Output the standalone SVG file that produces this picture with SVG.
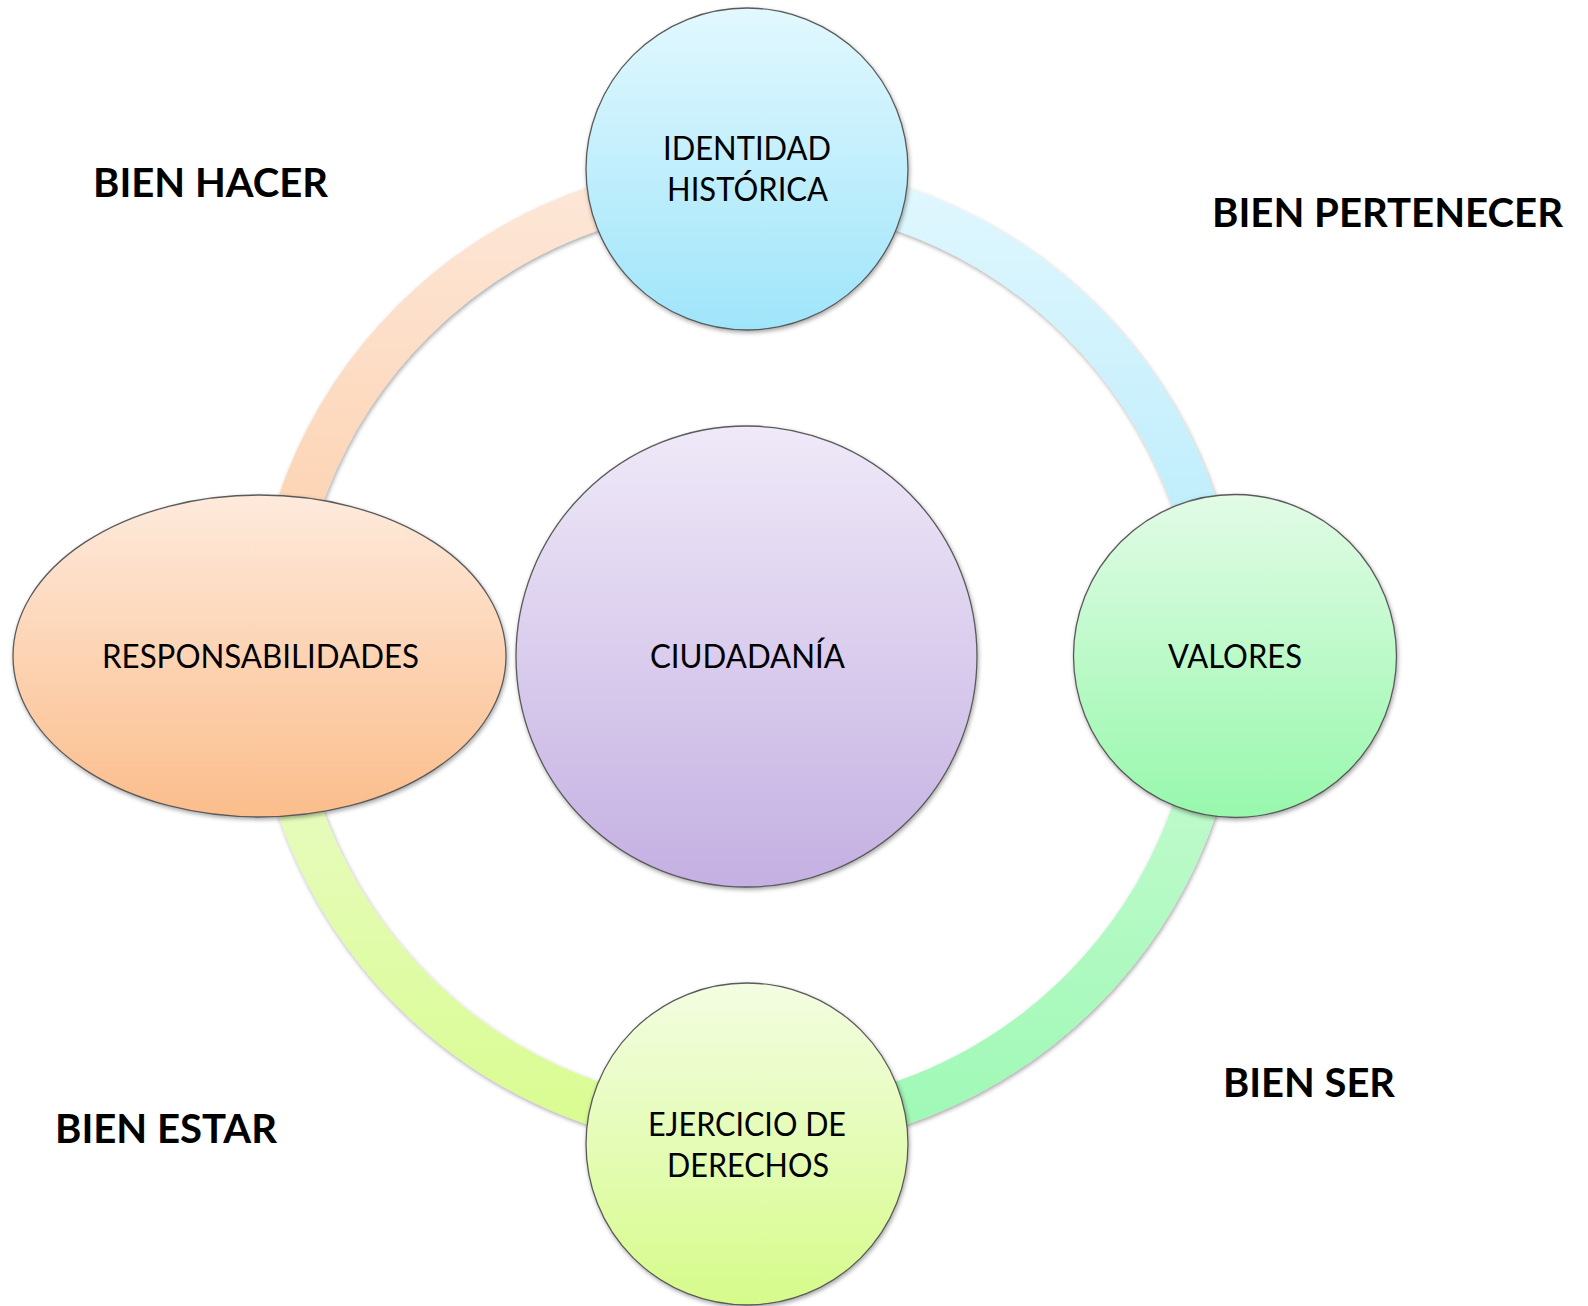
<svg xmlns="http://www.w3.org/2000/svg" width="1588" height="1306" viewBox="0 0 1588 1306">
<defs>
<filter id="sh" x="-10%" y="-10%" width="120%" height="120%">
<feDropShadow dx="1" dy="2" stdDeviation="2" flood-color="#000" flood-opacity="0.35"/>
</filter>
<linearGradient id="gTop" x1="0" y1="0" x2="0" y2="1"><stop offset="0" stop-color="#e2f8fe"/><stop offset="1" stop-color="#9fe5fa"/></linearGradient>
<linearGradient id="gLeft" x1="0" y1="0" x2="0" y2="1"><stop offset="0" stop-color="#feeadc"/><stop offset="1" stop-color="#fbbd8b"/></linearGradient>
<linearGradient id="gRight" x1="0" y1="0" x2="0" y2="1"><stop offset="0" stop-color="#e2fbe6"/><stop offset="1" stop-color="#97f8ac"/></linearGradient>
<linearGradient id="gBottom" x1="0" y1="0" x2="0" y2="1"><stop offset="0" stop-color="#f3fde2"/><stop offset="1" stop-color="#d6fb8a"/></linearGradient>
<linearGradient id="gCenter" x1="0" y1="0" x2="0" y2="1"><stop offset="0" stop-color="#efe9f8"/><stop offset="1" stop-color="#c4b0e2"/></linearGradient>
<linearGradient id="aTL" x1="0" y1="0" x2="0" y2="1"><stop offset="0" stop-color="#fde7d8"/><stop offset="1" stop-color="#fdcca5"/></linearGradient>
<linearGradient id="aTR" x1="0" y1="0" x2="0" y2="1"><stop offset="0" stop-color="#e0f7fe"/><stop offset="1" stop-color="#b2eafb"/></linearGradient>
<linearGradient id="aBR" x1="0" y1="0" x2="0" y2="1"><stop offset="0" stop-color="#cbfad3"/><stop offset="1" stop-color="#9ff9b6"/></linearGradient>
<linearGradient id="aBL" x1="0" y1="0" x2="0" y2="1"><stop offset="0" stop-color="#ecfbd0"/><stop offset="1" stop-color="#d9fc90"/></linearGradient>
</defs>
<style>
.arc{fill:none;stroke-width:44;filter:url(#sh)}
.node{stroke:#5a5a5a;stroke-width:1.3;filter:url(#sh)}
.t{font-family:Lato,"Liberation Sans",sans-serif;font-size:32px;fill:#000}
.b{font-family:Lato,"Liberation Sans",sans-serif;font-size:40.5px;font-weight:bold;fill:#000}
</style>
<g id="connectors">
<path class="arc" stroke="url(#aTL)" d="M274 656 A473 473 0 0 1 747 183"/>
<path class="arc" stroke="url(#aTR)" d="M747 183 A473 473 0 0 1 1220 656"/>
<path class="arc" stroke="url(#aBR)" d="M1220 656 A473 473 0 0 1 747 1129"/>
<path class="arc" stroke="url(#aBL)" d="M747 1129 A473 473 0 0 1 274 656"/>
</g>
<g id="node-ciudadania">
<circle class="node" cx="746.5" cy="656.5" r="230.5" fill="url(#gCenter)"/>
<text class="t" x="650" y="668" textLength="195" lengthAdjust="spacingAndGlyphs">CIUDADANÍA</text>
</g>
<g id="node-identidad">
<circle class="node" cx="747" cy="169" r="161" fill="url(#gTop)"/>
<text class="t" x="663" y="160" textLength="168" lengthAdjust="spacingAndGlyphs">IDENTIDAD</text>
<text class="t" x="667" y="201" textLength="161" lengthAdjust="spacingAndGlyphs">HISTÓRICA</text>
</g>
<g id="node-responsabilidades">
<ellipse class="node" cx="259.5" cy="656" rx="246.5" ry="161" fill="url(#gLeft)"/>
<text class="t" x="102" y="668" textLength="317" lengthAdjust="spacingAndGlyphs">RESPONSABILIDADES</text>
</g>
<g id="node-valores">
<circle class="node" cx="1235" cy="656" r="161.5" fill="url(#gRight)"/>
<text class="t" x="1168" y="668" textLength="134" lengthAdjust="spacingAndGlyphs">VALORES</text>
</g>
<g id="node-ejercicio">
<circle class="node" cx="747" cy="1144" r="161" fill="url(#gBottom)"/>
<text class="t" x="648" y="1136" textLength="198" lengthAdjust="spacingAndGlyphs">EJERCICIO DE</text>
<text class="t" x="667" y="1177" textLength="162" lengthAdjust="spacingAndGlyphs">DERECHOS</text>
</g>
<g id="labels">
<text class="b" x="93" y="197" textLength="235" lengthAdjust="spacingAndGlyphs">BIEN HACER</text>
<text class="b" x="1212" y="227" textLength="351" lengthAdjust="spacingAndGlyphs">BIEN PERTENECER</text>
<text class="b" x="55" y="1143" textLength="222" lengthAdjust="spacingAndGlyphs">BIEN ESTAR</text>
<text class="b" x="1223" y="1097" textLength="172" lengthAdjust="spacingAndGlyphs">BIEN SER</text>
</g>
</svg>
